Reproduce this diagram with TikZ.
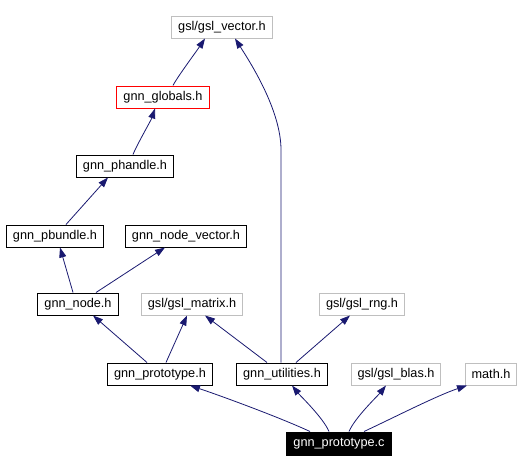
\documentclass[tikz,border=0pt]{standalone}
\usepackage{fontspec}
\setmainfont{Liberation Sans}
\usetikzlibrary{arrows.meta}
\definecolor{edgeblue}{HTML}{191970}
\definecolor{boxgray}{HTML}{BFBFBF}
\tikzset{
  box/.style={draw=black, line width=1pt, fill=white, inner xsep=6.5pt, inner ysep=0pt,
    minimum height=22pt, font=\fontsize{12.7pt}{14pt}\selectfont, text=black},
  grayb/.style={box, draw=boxgray},
  redb/.style={box, draw=red},
  mainb/.style={box, fill=black, text=white, minimum height=23pt},
  e/.style={draw=edgeblue, line width=0.8pt, -{Triangle[length=10pt,width=7pt]}}
}
\begin{document}
\begin{tikzpicture}[x=1pt,y=-1pt]
\useasboundingbox (0,0) rectangle (521,471);
\node[grayb] (vec) at (222,27) {gsl/gsl\_vector.h};
\node[redb] (glob) at (163,97) {gnn\_globals.h};
\node[box] (phan) at (125,166) {gnn\_phandle.h};
\node[box] (pbun) at (55,236) {gnn\_pbundle.h};
\node[box] (nvec) at (186,236) {gnn\_node\_vector.h};
\node[box] (node) at (78,304) {gnn\_node.h};
\node[grayb] (mat) at (192,304) {gsl/gsl\_matrix.h};
\node[grayb] (rng) at (362,304) {gsl/gsl\_rng.h};
\node[box] (proh) at (160,374) {gnn\_prototype.h};
\node[box] (util) at (282,374) {gnn\_utilities.h};
\node[grayb] (blas) at (396,374) {gsl/gsl\_blas.h};
\node[grayb] (math) at (491,374) {math.h};
\node[mainb] (proc) at (339,443.5) {gnn\_prototype.c};

\draw[e] ([xshift=10pt]glob.north) .. controls +(4,-8) and +(-8,12) .. ([xshift=-17pt]vec.south);
\draw[e] ([xshift=8pt]phan.north) .. controls +(4,-10) and +(-4,12) .. ([xshift=-8pt]glob.south);
\draw[e] ([xshift=11pt]pbun.north) -- ([xshift=-17pt]phan.south);
\draw[e] ([xshift=-5pt]node.north) -- ([xshift=5pt]pbun.south);
\draw[e] ([xshift=18pt]node.north) -- ([xshift=-21pt]nvec.south);
\draw[e] ([xshift=-13pt]proh.north) -- ([xshift=15pt]node.south);
\draw[e] ([xshift=6pt]proh.north) -- ([xshift=-5pt]mat.south);
\draw[e] ([xshift=-15pt]util.north) -- ([xshift=13pt]mat.south);
\coordinate (bend) at (281,150);
\draw[e] ([xshift=-1pt]util.north) -- (bend) .. controls (281,110) and (250,62) .. ([xshift=13pt]vec.south);
\draw[e] ([xshift=14pt]util.north) -- ([xshift=-12pt]rng.south);
\draw[e] ([xshift=-29pt]proc.north) .. controls +(-30,-14) and +(30,10) .. ([xshift=30pt]proh.south);
\draw[e] ([xshift=-10pt]proc.north) .. controls +(-6,-14) and +(8,10) .. ([xshift=10pt]util.south);
\draw[e] ([xshift=10pt]proc.north) .. controls +(6,-14) and +(-8,10) .. ([xshift=-10pt]blas.south);
\draw[e] ([xshift=25pt]proc.north) .. controls +(30,-14) and +(-30,10) .. ([xshift=-24pt]math.south);
\end{tikzpicture}
\end{document}
